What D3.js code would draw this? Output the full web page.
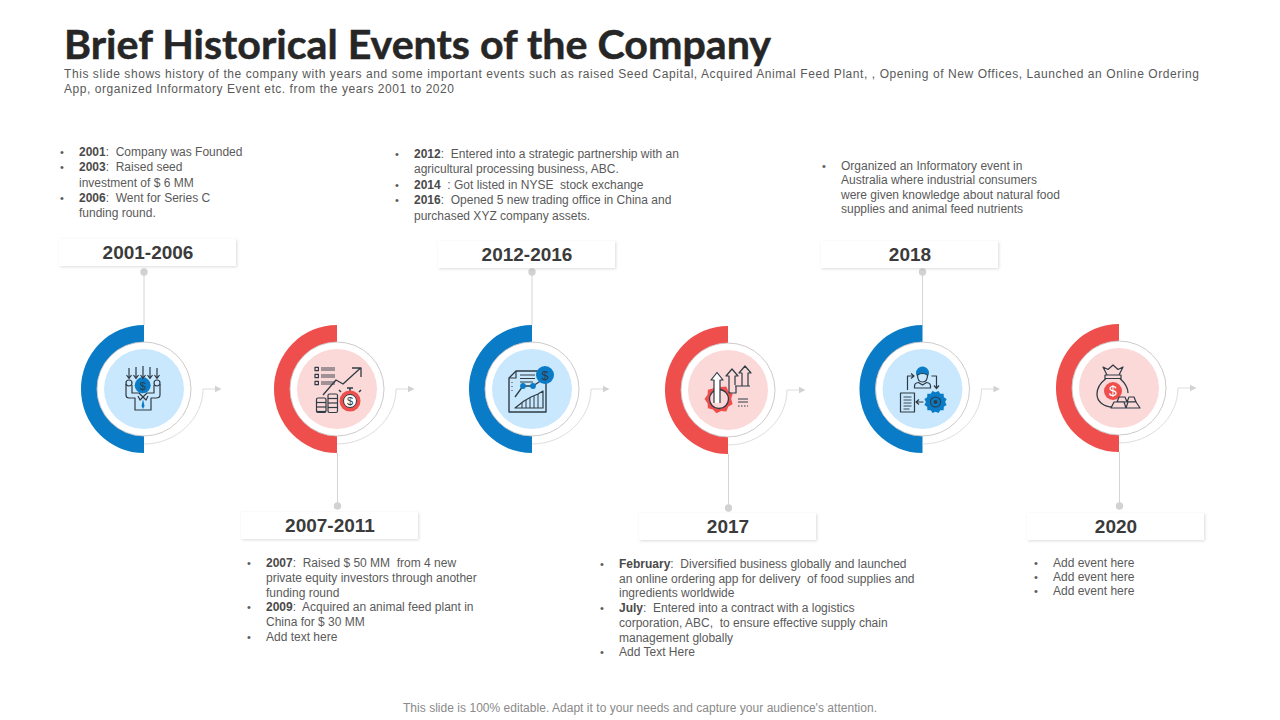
<!DOCTYPE html>
<html><head><meta charset="utf-8">
<script src="https://cdn.jsdelivr.net/npm/d3@7"></script>
<style>html,body{margin:0;background:#fff}svg{display:block}text{font-family:"Liberation Sans",Arial,sans-serif}</style>
</head><body><svg id="c" width="1280" height="720"></svg>
<script>
const periods=["2001-2006","2007-2011","2012-2016","2017","2018","2020"];
const tones=["blue","red","blue","red","blue","red"];
const sides=["up","down","up","down","up","down"];
const gap="\u00a0";
const notes2001=[[["2001",":"+gap+" Company was Founded"]],[["2003",":"+gap+" Raised seed"],["","investment of $ 6 MM"]],[["2006",":"+gap+" Went for Series C"],["","funding round."]]];
const notes2007=[[["2007",":"+gap+" Raised $ 50 MM"+gap+" from 4 new"],["","private equity investors through another"],["","funding round"]],[["2009",":"+gap+" Acquired an animal feed plant in"],["","China for $ 30 MM"]],[["","Add text here"]]];
const notes2012=[[["2012",":"+gap+" Entered into a strategic partnership with an"],["","agricultural processing business, ABC."]],[["2014",gap+" : Got listed in NYSE"+gap+" stock exchange"]],[["2016",":"+gap+" Opened 5 new trading office in China and"],["","purchased XYZ company assets."]]];
const notes2017=[[["February",":"+gap+" Diversified business globally and launched"],["","an online ordering app for delivery"+gap+" of food supplies and"],["","ingredients worldwide"]],[["July",":"+gap+" Entered into a contract with a logistics"],["","corporation, ABC,"+gap+" to ensure effective supply chain"],["","management globally"]],[["","Add Text Here"]]];
const notes2018=[[["","Organized an Informatory event in"],["","Australia where industrial consumers"],["","were given knowledge about natural food"],["","supplies and animal feed nutrients"]]];
const notes2020=[[["","Add event here"]],[["","Add event here"]],[["","Add event here"]]];
const allNotes=[notes2001,notes2007,notes2012,notes2017,notes2018,notes2020];

const svg=d3.select("#c");
const x=d3.scaleOrdinal().domain(periods).range([144,337,532,728,922.5,1119]);
const y=d3.scaleOrdinal().domain(periods).range([389,389,389,390,389,388]);
const boxTop=d3.scaleOrdinal().domain(periods).range([239,512,241,513,241,513]);
const boxLeft=d3.scaleOrdinal().domain(periods).range([59,241,438,639,821,1027]);
const dotY=d3.scaleOrdinal().domain(periods).range([272,506,272,508,272,506]);
const noteX=d3.scaleOrdinal().domain(periods).range([79,266,414,619,841,1053]);
const noteY=d3.scaleOrdinal().domain(periods).range([156,567,158,568,170,567]);
const noteStep=d3.scaleOrdinal().domain(periods).range([15.3,14.8,15.4,14.7,14.4,14]);
const palette={blue:{main:"#0a7cc7",pale:"#c9e8fd"},red:{main:"#ef4f4c",pale:"#fbd9d8"}};
const ink="#2f3b45";

function P(g,d,o={}){return g.append("path").attr("d",d).attr("fill",o.fill||"none").attr("stroke",o.stroke===undefined?ink:o.stroke).attr("stroke-width",o.w||1.2).attr("stroke-linejoin","round");}
function C(g,cx,cy,r,o={}){return g.append("circle").attr("cx",cx).attr("cy",cy).attr("r",r).attr("fill",o.fill||"none").attr("stroke",o.stroke===undefined?ink:o.stroke).attr("stroke-width",o.w||1.2);}
function D(g,xx,yy,fs,col){g.append("text").attr("x",xx).attr("y",yy).attr("text-anchor","middle").attr("font-size",fs).attr("font-weight",400).attr("fill",col||ink).text("$");}
function gear(g,cx,cy,r,col,n){const pts=[];for(let k=0;k<n*2;k++){const a=k*Math.PI/n,rr=k%2?r:r*.84;pts.push([cx+rr*Math.cos(a),cy+rr*Math.sin(a)]);}
  g.append("path").attr("d",d3.line().curve(d3.curveLinearClosed)(pts)).attr("fill",col);}
const icons=[
 (g,c)=>{
  C(g,-1.3,-3.7,8,{fill:c.main,stroke:"none"});D(g,-1.3,0.5,11,ink);
  [-15,-8,-1,6,13].forEach((a,i)=>{const t=i==2?-23:(i==1||i==3?-22:-21);P(g,`M${a},${t} V-11 M${a-2.5},-14 L${a},-10.5 L${a+2.5},-14`);});
  C(g,-15,-6,3,{fill:c.pale});C(g,13,-6,3,{fill:c.pale});
  P(g,"M-18,-5 V6 Q-18,9 -15,9 H-9 V21 H7 V9 H12 Q16,9 16,6 V-5 M-12,-4 V4 H-5 L-1,8 L3,4 H10 V-4");
  P(g,"M-1,8 L-4,11 L-6,7 M-1,8 L2,11 L4,7");
  P(g,"M-1,10 L-2.5,17 L-1,20 L.5,17Z",{fill:c.main,stroke:"none"});
 },
 (g,c)=>{
  [-20,-13,-6].forEach(t=>{P(g,`M-22,${t-1.7} h3.4 v3.4 h-3.4Z`);P(g,`M-16,${t-1} H-2 M-16,${t+1} H-2`,{w:.9});});
  P(g,"M-14,6 L-1,-9 L6,-5 L23,-20.6 M15,-21 H24 V-12",{w:1.3});
  [[-20.5,9],[-9,5]].forEach(s=>{
   P(g,`M${s[0]},${s[1]+1.5} q0,-1.5 1.5,-1.5 h6.5 q1.5,0 1.5,1.5 V22 q0,1.5 -1.5,1.5 h-6.5 q-1.5,0 -1.5,-1.5Z`);
   for(let yy=s[1]+4.5;yy<23;yy+=4.5)P(g,`M${s[0]},${yy} h9.5`);
  });
  P(g,"M10,-1 h6 M13,-1 v3 M4,3 l-2,-2 M22,3 l2,-2",{w:1.5});
  C(g,13,12,10.5,{fill:c.main,stroke:"none"});C(g,13,12,6.5,{fill:"#fff",stroke:ink,w:1});D(g,13,16,11,ink);
 },
 (g,c)=>{
  P(g,"M-16,-18 H14 V23 H-23 V-11 Z",{w:1.4});P(g,"M-16,-18 V-11 H-23");
  P(g,"M-12,-14 H3 M-12,-10.5 H3 M-12,-7 H1",{w:1});
  P(g,"M-20,-7 v1 M-20,-3 v1 M-20,1 v1",{w:1});
  P(g,"M-17,8 L-9,-3 L1,-3 L10,-9",{w:1.3});C(g,-9,-3,2.3,{fill:c.main,stroke:c.main});C(g,1,-3,2.3,{fill:c.main,stroke:c.main});
  P(g,"M-17,19 L-8,12 L-1,8 L6,5 L11,2 V19Z");P(g,"M-10,14 V19 M-6,11 V19 M-2,9 V19 M2,7 V19 M6,5 V19",{w:1});
  C(g,13,-14,9,{fill:c.main,stroke:"none"});D(g,13,-9.5,13,ink);
 },
 (g,c)=>{
  gear(g,-9,9,14.5,c.main,9);C(g,-9,9,9.5,{fill:c.pale,w:1.3});
  P(g,"M-14,13 V-10 H-17 L-11,-17.5 L-5,-10 H-8 V13",{fill:"#fff"});
  P(g,"M1,3 V-14 H-2 L4,-21 L10,-14 H7 V-5",{fill:"none"});
  P(g,"M7,-4 H22 M14,-4 V-17 H11 L17,-24 L23,-17 H20 V-4");P(g,"M1,3 H8 V-4");
  P(g,"M10,9 H20 M10,12 H20",{w:1});P(g,"M10,16 H20",{w:1}).attr("stroke-dasharray","1.5 1.5");
 },
 (g,c)=>{
  C(g,0,-16,6.5,{fill:c.main,stroke:"none"});P(g,"M-5,-14 Q-5,-7 0,-7 Q5,-7 5,-14 Q0,-17 -5,-14Z",{fill:c.pale});
  P(g,"M-8,-1 V-3 Q-8,-6 -4,-6.5 L0,-4 L4,-6.5 Q8,-6 8,-3 V-1Z");
  P(g,"M-15,1 V-13 H-9 M-11.5,-15.5 L-8.5,-13 L-11.5,-10.5");
  P(g,"M9,-13 H14 V-1 M11.5,-3.5 L14,-.5 L16.5,-3.5");
  P(g,"M-22,4 H-8 V23 H-22Z");P(g,"M-19,8 H-11 M-19,11 H-11 M-19,14 H-11 M-19,17 H-11 M-19,20 H-13",{w:.9});
  P(g,"M1,13 H-6 M-3.5,10.5 L-6.5,13 L-3.5,15.5");
  gear(g,13,13,11.5,c.main,12);C(g,13,13,5,{fill:"none",w:1.1});C(g,13,13,2,{fill:ink,stroke:"none"});
 },
 (g,c)=>{
  P(g,"M-12,-13 L-16,-21 L-11,-18.5 L-6,-23 L-1,-18.5 L4,-21 L0,-13",{fill:"none"});
  P(g,"M-14,-13 H2 V-9.5 H-14Z");
  P(g,"M-13,-9.5 C-20,-4 -22,1 -22,6 C-22,14 -15,19 -6,19 H0 M1,-9.5 C6,-5 9,0 9,5",{w:1.3});
  C(g,-6,3,9,{fill:c.main,stroke:"none"});D(g,-6,8,14,"#fff");
  P(g,"M-2,14 L0,9 H6 L8,14Z M8,14 L10,9 H15 L17,14Z",{fill:c.pale});
  P(g,"M-8,20 L-5,14 H5 L7,20Z M7,20 L9,14 H17 L21,20Z",{fill:c.pale});
 }
];

const defs=svg.append("defs");
const f=defs.append("filter").attr("id","sh").attr("x","-5%").attr("y","-20%").attr("width","110%").attr("height","150%");
f.append("feDropShadow").attr("dx",1).attr("dy",1).attr("stdDeviation",1.5).attr("flood-color","#000").attr("flood-opacity",.14);

svg.append("text").attr("x",64).attr("y",59).attr("font-size",41).attr("font-weight",700).attr("fill","#262626").attr("stroke","#262626").attr("stroke-width",.5).style("font-family","Lato").attr("textLength",707).attr("lengthAdjust","spacingAndGlyphs").text("Brief Historical Events of the Company");
const sub=[["This slide shows history of the company with years and some important events such as raised Seed Capital, Acquired Animal Feed Plant, , Opening of New Offices, Launched an Online Ordering",1135,78],["App, organized Informatory Event etc. from the years 2001 to 2020",390,93]];
svg.selectAll(".sub").data(sub).join("text").attr("class","sub").attr("x",64).attr("y",d=>d[2]).attr("font-size",12).attr("fill","#595959").attr("textLength",d=>d[1]).attr("lengthAdjust","spacing").text(d=>d[0]);
svg.append("text").attr("x",640).attr("y",712).attr("text-anchor","middle").attr("font-size",12).attr("fill","#8a8a8a").attr("textLength",474).text("This slide is 100% editable. Adapt it to your needs and capture your audience's attention.");

const arc=d3.arc();
const g=svg.selectAll(".stage").data(periods).join("g").attr("class","stage");
g.each(function(p,i){
  const s=d3.select(this),cx=x(p),cy=y(p),c=palette[tones[i]],up=sides[i]==="up";
  const lx=cx+(up?0:.5);
  s.append("line").attr("x1",lx).attr("x2",lx).attr("y1",dotY(p)).attr("y2",up?cy-64:cy+64).attr("stroke","#d4d4d4").attr("stroke-width",1);
  s.append("circle").attr("cx",lx).attr("cy",dotY(p)).attr("r",3.7).attr("fill","#d2d2d2");
  s.append("rect").attr("x",boxLeft(p)).attr("y",boxTop(p)).attr("width",177).attr("height",27).attr("fill","#fff").attr("filter","url(#sh)");
  s.append("text").attr("x",boxLeft(p)+89).attr("y",boxTop(p)+20).attr("text-anchor","middle").attr("font-size",19).attr("font-weight",700).attr("fill","#3b3b3b").text(p);
  s.append("path").attr("transform",`translate(${cx},${cy}) scale(.985,1)`).attr("fill",c.main).attr("d",arc({innerRadius:46,outerRadius:64,startAngle:Math.PI,endAngle:2*Math.PI}));
  s.append("circle").attr("cx",cx).attr("cy",cy).attr("r",47).attr("fill","#fff").attr("stroke","#c8c4c4").attr("stroke-width",.9);
  s.append("circle").attr("cx",cx).attr("cy",cy).attr("r",40).attr("fill",c.pale);
  s.append("path").attr("fill","none").attr("stroke","#d9d9d9").attr("stroke-width",.9).attr("d",`M${cx},${cy+55} C${cx+32},${cy+55} ${cx+59},${cy+30} ${cx+59},${cy} L${cx+72},${cy}`);
  s.append("path").attr("fill","#d2d2d2").attr("d",`M${cx+71},${cy-3.2} L${cx+77.5},${cy} L${cx+71},${cy+3.2}Z`);
  let ly=noteY(p);const tx=noteX(p),step=noteStep(p);
  const t=s.append("g").attr("font-size",12).attr("fill","#5a5a5a");
  allNotes[i].forEach(item=>{
    t.append("text").attr("x",tx-19).attr("y",ly).attr("font-size",11).text("•");
    item.forEach(line=>{
      const e=t.append("text").attr("x",tx).attr("y",ly);
      if(line[0])e.append("tspan").attr("font-weight",700).attr("fill","#4a4a4a").text(line[0]);
      e.append("tspan").text(line[1]);
      ly+=step;
    });
  });
  icons[i](s.append("g").attr("transform",`translate(${cx},${cy})`),c);
});
</script>
</body></html>
